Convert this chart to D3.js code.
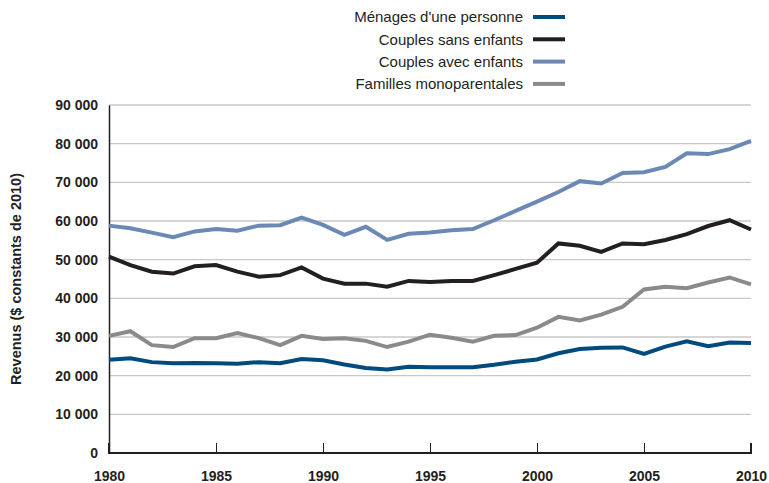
<!DOCTYPE html>
<html lang="fr">
<head>
    <meta charset="UTF-8">
    <title>Revenus</title>
    <script src="https://d3js.org/d3.v7.min.js"></script>
    <style>
        body { margin: 0; background: #fff; }
        text { font-family: "Liberation Sans", Arial, sans-serif; }
    </style>
</head>
<body>

<script>
    years = d3.range(1980, 2011)

    menages = [24100, 24500, 23500, 23200, 23300, 23200, 23100, 23500, 23200, 24300,
               24000, 22900, 22000, 21600, 22300, 22150, 22150, 22150, 22800, 23600,
               24200, 25800, 26900, 27200, 27300, 25600, 27500, 28900, 27600, 28600, 28450]

    sansEnfants = [50800, 48600, 46900, 46400, 48300, 48600, 46900, 45600, 46000, 48000,
                   45100, 43800, 43800, 43000, 44500, 44200, 44500, 44500, 46000, 47600,
                   49200, 54200, 53600, 52000, 54200, 54000, 55100, 56600, 58700, 60200, 57800]

    avecEnfants = [58800, 58100, 57000, 55800, 57300, 57900, 57500, 58800, 58900, 60900,
                   59000, 56400, 58500, 55100, 56700, 57000, 57600, 57900, 60200, 62600,
                   65000, 67500, 70300, 69700, 72400, 72600, 74000, 77500, 77300, 78600, 80700]

    monoparentales = [30300, 31500, 27900, 27400, 29700, 29700, 31000, 29700, 27900, 30300,
                      29500, 29700, 29000, 27400, 28800, 30600, 29800, 28800, 30300, 30500,
                      32400, 35200, 34300, 35800, 37800, 42300, 43000, 42600, 44100, 45400, 43600]

    seriesNames = ["Ménages d'une personne", "Couples sans enfants", "Couples avec enfants", "Familles monoparentales"]
    seriesColors = ["#004b7d", "#231f20", "#6b89b4", "#8a8a8c"]
    yTicks = d3.range(0, 90001, 10000)
    xTicks = [1980, 1985, 1990, 1995, 2000, 2005, 2010]

    w = 769
    h = 483
    margin = {top: 105, right: 18, bottom: 30, left: 109}
    width = w - margin.left - margin.right
    height = h - margin.top - margin.bottom

    svg = d3.select("body")
        .append("svg")
        .attr("width", w)
        .attr("height", h)

    g = svg.append("g")
        .attr("transform", "translate(" + margin.left + "," + margin.top + ")")

    x = d3.scaleLinear()
        .domain([1980, 2010])
        .range([0, width])

    y = d3.scaleLinear()
        .domain([0, 90000])
        .range([height, 0])

    fmt = d => d3.format(",")(d).replace(/,/g, " ")

    // gridlines
    g.selectAll("line.grid")
        .data(yTicks.filter(d => d > 0))
        .join("line")
        .attr("class", "grid")
        .attr("x1", 0)
        .attr("x2", width)
        .attr("y1", d => y(d))
        .attr("y2", d => y(d))
        .attr("stroke", "#c8c8c8")
        .attr("stroke-width", 1.3)

    // y axis
    yAxis = g.append("g")
        .call(d3.axisLeft(y).tickValues(yTicks).tickFormat(fmt).tickSize(0).tickPadding(11))
    yAxis.select(".domain").attr("stroke", "#231f20").attr("stroke-width", 1.5)
    yAxis.selectAll("text")
        .attr("font-size", 14)
        .attr("font-weight", "bold")
        .attr("fill", "#231f20")

    // x axis (ticks point up)
    xAxis = g.append("g")
        .attr("transform", "translate(0," + height + ")")
        .call(d3.axisBottom(x).tickValues(xTicks).tickFormat(d3.format("d")).tickSize(-10).tickPadding(18))
    xAxis.select(".domain").attr("stroke", "#231f20").attr("stroke-width", 2).attr("d", "M0,-10V0H" + width + "V-10")
    xAxis.selectAll(".tick line").attr("stroke", "#231f20").attr("stroke-width", 1)
    xAxis.selectAll("text")
        .attr("font-size", 14)
        .attr("font-weight", "bold")
        .attr("fill", "#231f20")

    // axis title
    svg.append("text")
        .attr("transform", "translate(21," + (margin.top + height / 2) + ") rotate(-90)")
        .attr("text-anchor", "middle")
        .attr("font-size", 14.5)
        .attr("font-weight", "bold")
        .attr("fill", "#231f20")
        .text("Revenus ($ constants de 2010)")

    // lines
    allSeries = [menages, sansEnfants, avecEnfants, monoparentales]
    line = d3.line()
        .x((d, i) => x(years[i]))
        .y(d => y(d))

    drawOrder = [0, 3, 1, 2]
    g.selectAll("path.series")
        .data(drawOrder)
        .join("path")
        .attr("class", "series")
        .attr("d", k => line(allSeries[k]))
        .attr("fill", "none")
        .attr("stroke", k => seriesColors[k])
        .attr("stroke-width", 4)
        .attr("stroke-linejoin", "miter")

    // legend
    legend = svg.append("g")
        .attr("transform", "translate(523,17)")

    items = legend.selectAll("g")
        .data(seriesNames)
        .join("g")
        .attr("transform", (d, i) => "translate(0," + i * 22.3 + ")")

    items.append("text")
        .attr("text-anchor", "end")
        .attr("dy", "0.35em")
        .attr("font-size", 15)
        .attr("fill", "#231f20")
        .text(d => d)

    items.append("line")
        .attr("x1", 10)
        .attr("x2", 42)
        .attr("stroke", (d, i) => seriesColors[i])
        .attr("stroke-width", 4)
</script>

</body>
</html>
